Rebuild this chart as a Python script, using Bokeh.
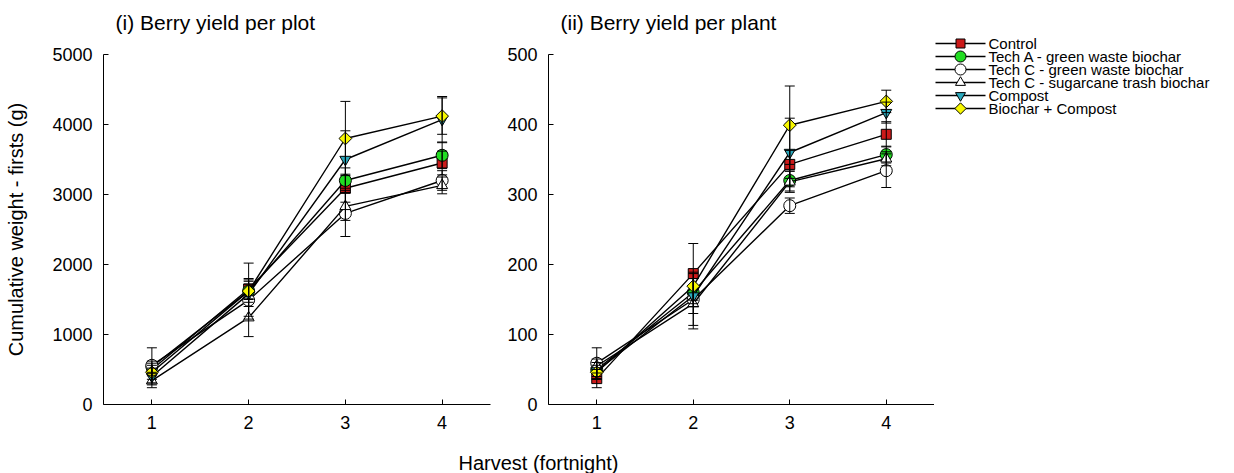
from math import pi

from bokeh.core.properties import value
from bokeh.embed import file_html
from bokeh.layouts import column, row
from bokeh.models import (ColumnDataSource, FixedTicker, Label, Range1d,
                          TeeHead, Whisker)
from bokeh.plotting import figure
from bokeh.resources import INLINE

# ---- data -----------------------------------------------------------------
harvest = [1, 2, 3, 4]
harvest_ticks = [1, 2, 3, 4]
plot_ticks = [0, 1000, 2000, 3000, 4000, 5000]
plant_ticks = [0, 100, 200, 300, 400, 500]

treatments = [
    "Control",
    "Tech A - green waste biochar",
    "Tech C - green waste biochar",
    "Tech C - sugarcane trash biochar",
    "Compost",
    "Biochar + Compost",
]

# (i) cumulative berry weight per plot (g) and standard errors
control_plot = [500, 1650, 3090, 3450]
tech_a_gw_plot = [540, 1620, 3200, 3560]
tech_c_gw_plot = [560, 1490, 2730, 3200]
tech_c_sc_plot = [340, 1240, 2830, 3130]
compost_plot = [400, 1580, 3500, 4070]
biochar_compost_plot = [460, 1620, 3800, 4120]

control_plot_se = [90, 150, 200, 170]
tech_a_gw_plot_se = [80, 160, 180, 190]
tech_c_gw_plot_se = [250, 230, 330, 140]
tech_c_sc_plot_se = [100, 270, 200, 120]
compost_plot_se = [120, 180, 410, 330]
biochar_compost_plot_se = [100, 400, 530, 260]

# (ii) cumulative berry weight per plant (g) and standard errors
control_plant = [37, 187, 343, 386]
tech_a_gw_plant = [50, 160, 320, 357]
tech_c_gw_plant = [59, 150, 284, 334]
tech_c_sc_plant = [55, 144, 318, 351]
compost_plant = [48, 155, 360, 417]
biochar_compost_plant = [46, 169, 399, 433]

control_plant_se = [13, 43, 20, 18]
tech_a_gw_plant_se = [10, 20, 15, 12]
tech_c_gw_plant_se = [22, 37, 11, 24]
tech_c_sc_plant_se = [10, 36, 15, 10]
compost_plant_se = [12, 25, 49, 15]
biochar_compost_plant_se = [10, 20, 56, 16]

plot_means = [control_plot, tech_a_gw_plot, tech_c_gw_plot,
              tech_c_sc_plot, compost_plot, biochar_compost_plot]
plot_errors = [control_plot_se, tech_a_gw_plot_se, tech_c_gw_plot_se,
               tech_c_sc_plot_se, compost_plot_se, biochar_compost_plot_se]
plant_means = [control_plant, tech_a_gw_plant, tech_c_gw_plant,
               tech_c_sc_plant, compost_plant, biochar_compost_plant]
plant_errors = [control_plant_se, tech_a_gw_plant_se, tech_c_gw_plant_se,
                tech_c_sc_plant_se, compost_plant_se, biochar_compost_plant_se]

# ---- styling --------------------------------------------------------------
FONT = "Liberation Sans"
markers = [
    dict(marker="square", size=10, fill_color="#cc1a1a", angle=0),
    dict(marker="circle", size=12, fill_color="#22dd22", angle=0),
    dict(marker="circle", size=12, fill_color="#ffffff", angle=0),
    dict(marker="triangle", size=11, fill_color="#ffffff", angle=0),
    dict(marker="inverted_triangle", size=11, fill_color="#2aa8bc", angle=0),
    dict(marker="square", size=9, fill_color="#f8f800", angle=pi / 4),
]

W_TOTAL, H_TOTAL = 1234, 473
TITLE_H = 36        # strip holding the panel titles
XLABEL_H = 33       # strip holding the shared x-axis title
PANEL_H = H_TOTAL - TITLE_H - XLABEL_H
FRAME_TOP, FRAME_BOTTOM = 54, 404
LEFT_W, RIGHT_W = 500, 434
CHART_W = LEFT_W + RIGHT_W
LEGEND_W = W_TOTAL - CHART_W


def blank(width, height):
    """Axis-less canvas whose data units are pixels measured from its top-left."""
    p = figure(width=width, height=height, output_backend="svg",
               toolbar_location=None, x_axis_location=None,
               y_axis_location=None, min_border=0,
               x_range=Range1d(0, width), y_range=Range1d(height, 0))
    p.xgrid.visible = False
    p.ygrid.visible = False
    p.outline_line_color = None
    return p


def style_axes(p, yticks):
    for ax in (p.xaxis, p.yaxis):
        ax.major_tick_in = 5
        ax.major_tick_out = 0
        ax.minor_tick_line_color = None
        ax.axis_line_color = "black"
        ax.major_tick_line_color = "black"
        ax.major_label_text_font = FONT
        ax.major_label_text_font_size = "18px"
        ax.major_label_text_color = "black"
        ax.major_label_standoff = 11
    p.xaxis.ticker = FixedTicker(ticks=harvest_ticks)
    p.yaxis.ticker = FixedTicker(ticks=yticks)
    p.xgrid.visible = False
    p.ygrid.visible = False
    p.outline_line_color = None


def draw_panel(p, means, errors):
    for m, e, mk in zip(means, errors, markers):
        src = ColumnDataSource(dict(
            x=harvest, y=m,
            lo=[a - b for a, b in zip(m, e)],
            hi=[a + b for a, b in zip(m, e)],
        ))
        p.line("x", "y", source=src, line_color="black", line_width=1.4)
        p.add_layout(Whisker(
            base="x", lower="lo", upper="hi", source=src,
            line_color="black", line_width=1,
            upper_head=TeeHead(size=10, line_color="black", line_width=1),
            lower_head=TeeHead(size=10, line_color="black", line_width=1),
            level="glyph"))
        p.scatter("x", "y", source=src, marker=mk["marker"], size=mk["size"],
                  angle=mk["angle"], fill_color=mk["fill_color"],
                  line_color="black", line_width=1)


def panel(width, border_left, border_right, y_end, yticks):
    p = figure(width=width, height=PANEL_H, output_backend="svg",
               toolbar_location=None,
               x_range=Range1d(0.5, 4.5), y_range=Range1d(0, y_end),
               min_border_left=border_left, min_border_right=border_right,
               min_border_top=FRAME_TOP - TITLE_H,
               min_border_bottom=TITLE_H + PANEL_H - FRAME_BOTTOM)
    style_axes(p, yticks)
    return p


# ---- (i) per plot ---------------------------------------------------------
p1 = panel(LEFT_W, 103, 10, 5000, plot_ticks)
p1.yaxis.axis_label = "Cumulative weight - firsts (g)"
p1.yaxis.axis_label_text_font = FONT
p1.yaxis.axis_label_text_font_size = "20px"
p1.yaxis.axis_label_text_font_style = "normal"
p1.yaxis.axis_label_text_color = "black"
p1.yaxis.axis_label_standoff = 22
draw_panel(p1, plot_means, plot_errors)

# ---- (ii) per plant -------------------------------------------------------
p2 = panel(RIGHT_W, 48, 0, 500, plant_ticks)
draw_panel(p2, plant_means, plant_errors)

# ---- panel titles -----------------------------------------------------------
pt = blank(CHART_W, TITLE_H)
for x0, txt in ((115, "(i) Berry yield per plot"),
                (LEFT_W + 60, "(ii) Berry yield per plant")):
    pt.add_layout(Label(x=x0, y=22, text=txt, text_font=FONT,
                        text_font_size="21px", text_color="black",
                        text_align="left", text_baseline="middle"))

# ---- shared x-axis title ----------------------------------------------------
pb = blank(CHART_W, XLABEL_H)
pb.add_layout(Label(x=538, y=462 - (H_TOTAL - XLABEL_H),
                    text="Harvest (fortnight)", text_font=FONT,
                    text_font_size="20px", text_color="black",
                    text_align="center", text_baseline="middle"))

# ---- legend -----------------------------------------------------------------
pl = blank(LEGEND_W, H_TOTAL)
ROW0, ROW_STEP = 43, 13
KEY_X0, KEY_X1, TEXT_X = 1, 51, 54
key_y = [ROW0 + ROW_STEP * i for i in range(len(treatments))]
key_src = ColumnDataSource(dict(
    x0=[KEY_X0] * len(treatments), x1=[KEY_X1] * len(treatments),
    y=key_y, tx=[TEXT_X] * len(treatments), label=treatments,
))
pl.segment("x0", "y", "x1", "y", source=key_src, line_color="black",
           line_width=1.4)
for i, mk in enumerate(markers):
    pl.scatter([(KEY_X0 + KEY_X1) / 2], [key_y[i]], marker=mk["marker"],
               size=mk["size"] - 1, angle=mk["angle"],
               fill_color=mk["fill_color"], line_color="black", line_width=1)
pl.text("tx", "y", text="label", source=key_src, text_font=value(FONT),
        text_font_size="15px", text_color="black", text_align="left",
        text_baseline="middle")

layout = row(column(pt, row(p1, p2), pb), pl)
open("out.html", "w").write(file_html(layout, INLINE))
